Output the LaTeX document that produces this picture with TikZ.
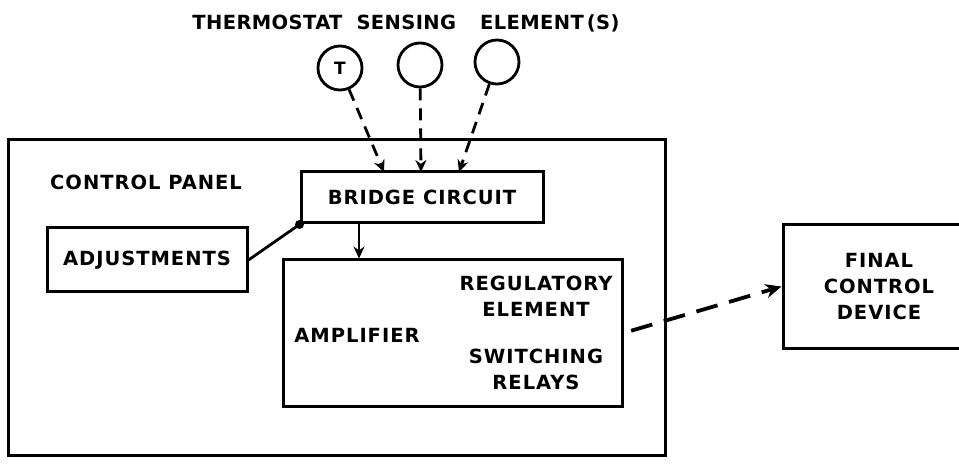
\documentclass[tikz,border=0pt]{standalone}
\usepackage{fontspec}
\setmainfont{DejaVu Sans Bold}[LetterSpace=5]
\newfontfamily\titlefont{DejaVu Sans Bold}[LetterSpace=2]
\usetikzlibrary{arrows.meta}
\begin{document}
\begin{tikzpicture}[x=1pt,y=-1pt,
  box/.style={draw, line width=3pt, inner sep=0pt},
  lbl/.style={font=\fontsize{19.5}{26}\selectfont, align=center, inner sep=0pt},
  sensor/.style={draw, circle, line width=2.8pt, minimum size=44pt, inner sep=0pt, font=\fontsize{17}{20}\selectfont},
  sig/.style={line width=2.8pt, dash pattern=on 12pt off 8pt, -{Stealth[length=12pt,width=11pt]}},
  outsig/.style={line width=3.8pt, dash pattern=on 22pt off 12pt, -{Stealth[length=16pt,width=14pt]}, shorten <=8pt},
  link/.style={line width=2.8pt}
]
\useasboundingbox (0,0) rectangle (959,465);
\clip (0,0) rectangle (959,465);

% title and sensing elements
\node[inner sep=0pt, font=\titlefont\fontsize{19.5}{24}\selectfont] (title) at (406,23)
  {THERMOSTAT\hspace{14pt}SENSING\hspace{24pt}ELEMENT\hspace{3pt}(S)};
\node[sensor] (c1) at (340,68) {T};
\node[sensor] (c2) at (420,65) {};
\node[sensor] (c3) at (497,62) {};

% control panel
\node[box, minimum width=657pt, minimum height=315pt] (panel) at (336.5,297.5) {};
\node[lbl, anchor=west] (cp) at (50,182) {CONTROL PANEL};

\node[box, lbl, minimum width=242pt, minimum height=51pt] (bridge) at (422,197.5) {BRIDGE CIRCUIT};
\node[box, lbl, minimum width=200pt, minimum height=64pt] (adj) at (147,260) {ADJUSTMENTS};
\node[box, minimum width=339pt, minimum height=146pt] (amp) at (452.5,333) {};
\node[lbl] (ampl) at (357,335) {AMPLIFIER};
\node[lbl] (reg) at (536,296.5) {REGULATORY\\ELEMENT};
\node[lbl] (sw) at (536,369.5) {SWITCHING\\RELAYS};

% final control device
\node[box, lbl, minimum width=192pt, minimum height=123pt] (final) at (879,286.5) {FINAL\\CONTROL\\DEVICE};

% connectors
\coordinate (b1) at (384,172);
\coordinate (b2) at (421,172);
\coordinate (b3) at (459,172);
\draw[sig] (c1) -- (b1);
\draw[sig] (c2) -- (b2);
\draw[sig] (c3) -- (b3);

\draw[link] (adj.east) -- (bridge.south west);
\fill (bridge.south west) circle (4.5pt);

\coordinate (ba) at (359,0);
\draw[link, -{Stealth[length=12pt,width=11pt]}] (bridge.south -| ba) -- (amp.north -| ba);

\draw[outsig] (amp.east) -- (final.west);
\end{tikzpicture}
\end{document}
